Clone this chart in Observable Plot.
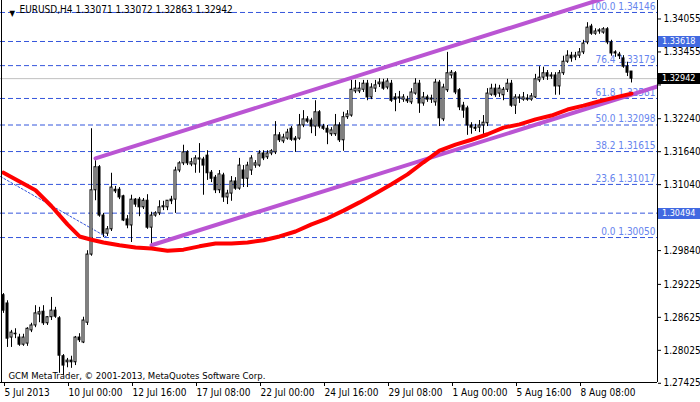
<!DOCTYPE html>
<html><head><meta charset="utf-8">
<script src="https://cdn.jsdelivr.net/npm/d3@7"></script>
<script src="https://cdn.jsdelivr.net/npm/@observablehq/plot@0.6"></script>
<style>
html,body{margin:0;padding:0;background:#fff;}
#chart svg{display:block;}
</style></head><body><div id="chart"></div>
<script>
// EURUSD H4 candles (bar index 0 = 5 Jul 2013)
const opens = [
1.2900,1.2885,1.2823,1.2829,1.2823,1.2810,1.2812,1.2836,1.2845,1.2865,
1.2870,1.2849,1.2860,1.2872,1.2858,1.2789,1.2778,1.2781,1.2778,1.2823,
1.2814,1.2850,1.2974,1.3091,1.3133,1.3045,1.3012,1.3020,1.3092,1.3092,
1.3080,1.3038,1.3027,1.3074,1.3074,1.3060,1.3072,1.3023,1.3045,1.3049,
1.3060,1.3060,1.3074,1.3074,1.3127,1.3140,1.3160,1.3138,1.3138,1.3147,
1.3147,1.3154,1.3123,1.3114,1.3091,1.3118,1.3078,1.3085,1.3107,1.3094,
1.3127,1.3112,1.3127,1.3136,1.3136,1.3158,1.3151,1.3158,1.3160,1.3191,
1.3180,1.3185,1.3203,1.3185,1.3185,1.3209,1.3220,1.3218,1.3207,1.3233,
1.3207,1.3203,1.3193,1.3193,1.3209,1.3182,1.3224,1.3227,1.3271,1.3271,
1.3274,1.3285,1.3260,1.3276,1.3284,1.3287,1.3278,1.3285,1.3260,1.3258,
1.3256,1.3256,1.3251,1.3267,1.3285,1.3249,1.3260,1.3256,1.3251,1.3287,
1.3220,1.3273,1.3300,1.3304,1.3273,1.3245,1.3240,1.3209,1.3205,1.3205,
1.3209,1.3213,1.3265,1.3276,1.3267,1.3264,1.3274,1.3285,1.3245,1.3258,
1.3256,1.3258,1.3256,1.3260,1.3291,1.3296,1.3304,1.3298,1.3300,1.3280,
1.3304,1.3325,1.3336,1.3333,1.3336,1.3342,1.3360,1.3389,1.3376,1.3380,
1.3378,1.3384,1.3360,1.3342,1.3338,1.3331,1.3316,1.33071];
const highs = [
1.2903,1.2890,1.2836,1.2839,1.2829,1.2829,1.2841,1.2849,1.2881,1.2878,
1.2881,1.2861,1.2896,1.2878,1.2861,1.2792,1.2785,1.2789,1.2825,1.2830,
1.2860,1.2981,1.3203,1.3145,1.3136,1.3049,1.3025,1.3122,1.3098,1.3096,
1.3082,1.3045,1.3082,1.3076,1.3078,1.3076,1.3083,1.3051,1.3052,1.3072,
1.3071,1.3072,1.3080,1.3133,1.3143,1.3173,1.3163,1.3149,1.3154,1.3176,
1.3151,1.3163,1.3127,1.3118,1.3127,1.3122,1.3091,1.3116,1.3114,1.3149,
1.3136,1.3142,1.3154,1.3145,1.3163,1.3163,1.3163,1.3165,1.3216,1.3196,
1.3193,1.3202,1.3207,1.3189,1.3229,1.3236,1.3225,1.3222,1.3254,1.3236,
1.3211,1.3209,1.3205,1.3229,1.3214,1.3233,1.3236,1.3291,1.3291,1.3287,
1.3291,1.3291,1.3285,1.3291,1.3294,1.3293,1.3294,1.3291,1.3267,1.3271,
1.3265,1.3262,1.3276,1.3294,1.3291,1.3269,1.3264,1.3264,1.3293,1.3291,
1.3284,1.3342,1.3309,1.3307,1.3276,1.3251,1.3244,1.3214,1.3211,1.3218,
1.3227,1.3276,1.3284,1.3284,1.3282,1.3278,1.3293,1.3291,1.3265,1.3265,
1.3269,1.3265,1.3267,1.3302,1.3316,1.3315,1.3309,1.3305,1.3305,1.3309,
1.3335,1.3345,1.3342,1.3342,1.3349,1.3364,1.3396,1.3393,1.3385,1.3385,
1.3387,1.3387,1.3364,1.3345,1.3342,1.3336,1.3324,1.33072];
const lows = [
1.2867,1.2805,1.2805,1.2821,1.2807,1.2807,1.2807,1.2832,1.2841,1.2850,
1.2845,1.2845,1.2854,1.2858,1.2758,1.2754,1.2768,1.2767,1.2772,1.2814,
1.2812,1.2845,1.2971,1.3072,1.3042,1.3005,1.3007,1.3016,1.3085,1.3074,
1.3034,1.3021,1.2996,1.3060,1.3043,1.3056,1.3020,1.2991,1.3042,1.3045,
1.3054,1.3054,1.3065,1.3049,1.3123,1.3136,1.3136,1.3134,1.3122,1.3122,
1.3082,1.3109,1.3105,1.3085,1.3085,1.3069,1.3065,1.3071,1.3091,1.3091,
1.3096,1.3096,1.3118,1.3131,1.3133,1.3145,1.3147,1.3154,1.3156,1.3178,
1.3176,1.3182,1.3180,1.3160,1.3182,1.3205,1.3213,1.3194,1.3189,1.3203,
1.3200,1.3174,1.3189,1.3189,1.3178,1.3162,1.3220,1.3224,1.3267,1.3267,
1.3269,1.3254,1.3256,1.3269,1.3278,1.3273,1.3274,1.3251,1.3234,1.3249,
1.3251,1.3249,1.3247,1.3264,1.3231,1.3244,1.3251,1.3249,1.3244,1.3207,
1.3216,1.3269,1.3294,1.3265,1.3236,1.3222,1.3191,1.3193,1.3198,1.3196,
1.3189,1.3207,1.3262,1.3260,1.3260,1.3254,1.3269,1.3242,1.3229,1.3249,
1.3253,1.3253,1.3253,1.3258,1.3287,1.3291,1.3291,1.3293,1.3264,1.3264,
1.3300,1.3322,1.3324,1.3327,1.3331,1.3338,1.3356,1.3373,1.3373,1.3375,
1.3375,1.3356,1.3335,1.3333,1.3329,1.3313,1.3298,1.32863];
const closes = [
1.2872,1.2821,1.2832,1.2830,1.2810,1.2823,1.2839,1.2845,1.2867,1.2869,
1.2849,1.2860,1.2872,1.2861,1.2790,1.2772,1.2781,1.2778,1.2823,1.2818,
1.2854,1.2974,1.3091,1.3133,1.3045,1.3012,1.3020,1.3096,1.3089,1.3078,
1.3036,1.3027,1.3074,1.3065,1.3060,1.3072,1.3023,1.3045,1.3049,1.3060,
1.3062,1.3072,1.3071,1.3127,1.3140,1.3160,1.3140,1.3142,1.3149,1.3149,
1.3136,1.3122,1.3112,1.3091,1.3120,1.3078,1.3085,1.3107,1.3094,1.3136,
1.3112,1.3136,1.3149,1.3140,1.3158,1.3149,1.3158,1.3162,1.3191,1.3182,
1.3187,1.3196,1.3183,1.3182,1.3209,1.3220,1.3216,1.3207,1.3233,1.3207,
1.3203,1.3196,1.3200,1.3209,1.3182,1.3224,1.3229,1.3274,1.3276,1.3276,
1.3285,1.3260,1.3278,1.3282,1.3287,1.3276,1.3289,1.3254,1.3256,1.3260,
1.3260,1.3253,1.3269,1.3285,1.3249,1.3260,1.3256,1.3258,1.3287,1.3222,
1.3278,1.3304,1.3305,1.3269,1.3242,1.3236,1.3209,1.3205,1.3203,1.3209,
1.3214,1.3267,1.3276,1.3264,1.3276,1.3274,1.3285,1.3245,1.3260,1.3260,
1.3260,1.3256,1.3262,1.3293,1.3296,1.3304,1.3298,1.3300,1.3280,1.3304,
1.3325,1.3336,1.3331,1.3336,1.3342,1.3358,1.3387,1.3376,1.3380,1.3382,
1.3384,1.3360,1.3340,1.3340,1.3335,1.3316,1.3305,1.32942];

// Moving average (red), read at sampled bars
const maBars = [0,8,12,16,19,22,25,29,33,37,41,45,49,53,57,61,65,69,73,77,81,85,89,93,97,101,105,109,113,117,121,125,129,133,137,141,145,149,153,157];
const maValues = [1.3123,1.3091,1.3062,1.3029,1.3007,1.3001,1.2996,1.2991,1.2987,1.2985,1.2981,1.2983,1.2989,1.2994,1.2994,1.2996,1.3000,1.3007,1.3016,1.3029,1.3040,1.3054,1.3069,1.3085,1.3102,1.3120,1.3142,1.3163,1.3174,1.3183,1.3193,1.3205,1.3211,1.3220,1.3227,1.3238,1.3245,1.3253,1.3260,1.3267];

// Fibonacci retracement
const fibRatios = ["100.0","76.4","61.8","50.0","38.2","23.6","0.0"];
const fibPrices = [1.34146,1.33179,1.32581,1.32098,1.31615,1.31017,1.30050];
const fibTrendBars = [-0.75, 26];
const fibTrendPrices = [1.3116, 1.30050];

// Horizontal lines and price tags
const hLinePrices = [1.33618, 1.30494];
const bidPrice = 1.32942;

// Equidistant channel anchors
const channelUpperBars = [23, 163.5];
const channelUpperPrices = [1.3149, 1.3471];
const channelLowerBars = [37, 163.5];
const channelLowerPrices = [1.2991, 1.3280];

// Axes (1.32855 and 1.30440 sit under the price tags, so only their tick marks show)
const yTicks = [1.34055,1.33455,1.32855,1.32240,1.31640,1.31040,1.30440,1.29840,1.29225,1.28625,1.28025,1.27425];
const yHiddenLabels = [1.32855, 1.30440];
const xTickBars = [0,16,32,48,64,80,96,112,128,144];
const xTickLabels = ["5 Jul 2013","10 Jul 00:00","12 Jul 16:00","17 Jul 08:00","22 Jul 00:00","24 Jul 16:00","29 Jul 08:00","1 Aug 00:00","5 Aug 16:00","8 Aug 08:00"];

const titleText = "EURUSD,H4 1.33071 1.33072 1.32863 1.32942";
const copyrightText = "GCM MetaTrader, \u00A9 2001-2013, MetaQuotes Software Corp.";

const FONT = "'DejaVu Sans Condensed', 'Liberation Sans', sans-serif";

const bars = opens.map((o, i) => ({i, o, h: highs[i], l: lows[i], c: closes[i]}));
const ma = maBars.map((b, k) => ({b, v: maValues[k]}));
const fibs = fibPrices.map((p, k) => ({p, label: fibRatios[k] + " " + p.toFixed(5)}));
const fibTrend = fibTrendBars.map((b, k) => ({b, v: fibTrendPrices[k]}));
const chUp = channelUpperBars.map((b, k) => ({b, v: channelUpperPrices[k]}));
const chLo = channelLowerBars.map((b, k) => ({b, v: channelLowerPrices[k]}));
const xLabel = new Map(xTickBars.map((b, k) => [b, xTickLabels[k]]));
const fmt5 = d3.format(".5f");

const DASH = "#3556dc";
const PURPLE = "#ba55d3";

const plot = Plot.plot({
  width: 700, height: 402,
  marginLeft: 0, marginRight: 43, marginTop: 0, marginBottom: 20,
  x: {domain: [-0.75, 163.5], axis: null},
  y: {domain: [1.27412, 1.34364], axis: null},
  style: {fontFamily: FONT, fontSize: "10px", color: "black", background: "white", overflow: "visible"},
  marks: [
    Plot.ruleY([...fibPrices, ...hLinePrices], {y: d => d, stroke: DASH, strokeDasharray: "5,3", strokeWidth: 1}),
    Plot.text(fibs, {y: "p", text: "label", frameAnchor: "right", textAnchor: "end", dx: -2, dy: -6, fill: "#6684ee"}),
    Plot.ruleY([bidPrice], {stroke: "#c0c0c0", strokeWidth: 1}),
    Plot.line(fibTrend, {x: "b", y: "v", stroke: DASH, strokeWidth: 1, strokeDasharray: "2,2"}),
    Plot.ruleX(bars, {x: "i", y1: "l", y2: "h", stroke: "black", strokeWidth: 1}),
    Plot.rect(bars, {x1: d => d.i - 0.25, x2: d => d.i + 0.25, y1: "o", y2: "c",
      fill: d => d.c >= d.o ? "white" : "black", stroke: "black", strokeWidth: 1}),
    Plot.line(chUp, {x: "b", y: "v", stroke: PURPLE, strokeWidth: 4, clip: true}),
    Plot.line(chLo, {x: "b", y: "v", stroke: PURPLE, strokeWidth: 4, clip: true}),
    Plot.line(ma, {x: "b", y: "v", stroke: "#ff0000", strokeWidth: 4, curve: "linear"}),
    Plot.text(["\u25BC"], {frameAnchor: "top-left", dx: 9, dy: 10, fontSize: 8, fill: "black"}),
    Plot.text([titleText], {frameAnchor: "top-left", dx: 19, dy: 5, textAnchor: "start", lineAnchor: "top", fill: "black"}),
    Plot.text([copyrightText], {frameAnchor: "bottom-left", dx: 8, dy: -4, textAnchor: "start", lineAnchor: "bottom", fill: "black", fontSize: 9.5}),
    Plot.ruleX([-0.5, 163.5], {stroke: "black"}),
    Plot.ruleY([1.27412], {stroke: "black"}),
    Plot.axisY({anchor: "right", ticks: yTicks, tickFormat: d => yHiddenLabels.includes(d) ? "" : fmt5(d), tickSize: 3, tickPadding: 3, dy: 1.5, label: null}),
    Plot.axisX({ticks: xTickBars, tickFormat: d => xLabel.get(d), tickSize: 4, tickPadding: 2, textAnchor: "start", dx: 1, label: null})
  ]
});

document.getElementById("chart").appendChild(plot);

// Price tags on the right scale
const yScale = plot.scale("y");
const tags = [
  {p: 1.33618, bg: "#4169e1"},
  {p: 1.30494, bg: "#4169e1"},
  {p: bidPrice, bg: "#000000"}
];
const svg = d3.select(plot);
const g = svg.append("g").attr("font-family", FONT).attr("font-size", "9px").attr("text-anchor", "start");
tags.forEach(t => {
  const yy = Math.round(yScale.apply(t.p));
  g.append("rect").attr("x", 658).attr("y", yy - 5).attr("width", 42).attr("height", 11).attr("fill", t.bg);
  g.append("text").attr("x", 662).attr("y", yy).attr("dy", "0.32em").attr("text-anchor", "start").attr("fill", "white").text(t.p.toFixed(5));
});
</script>
</body></html>
